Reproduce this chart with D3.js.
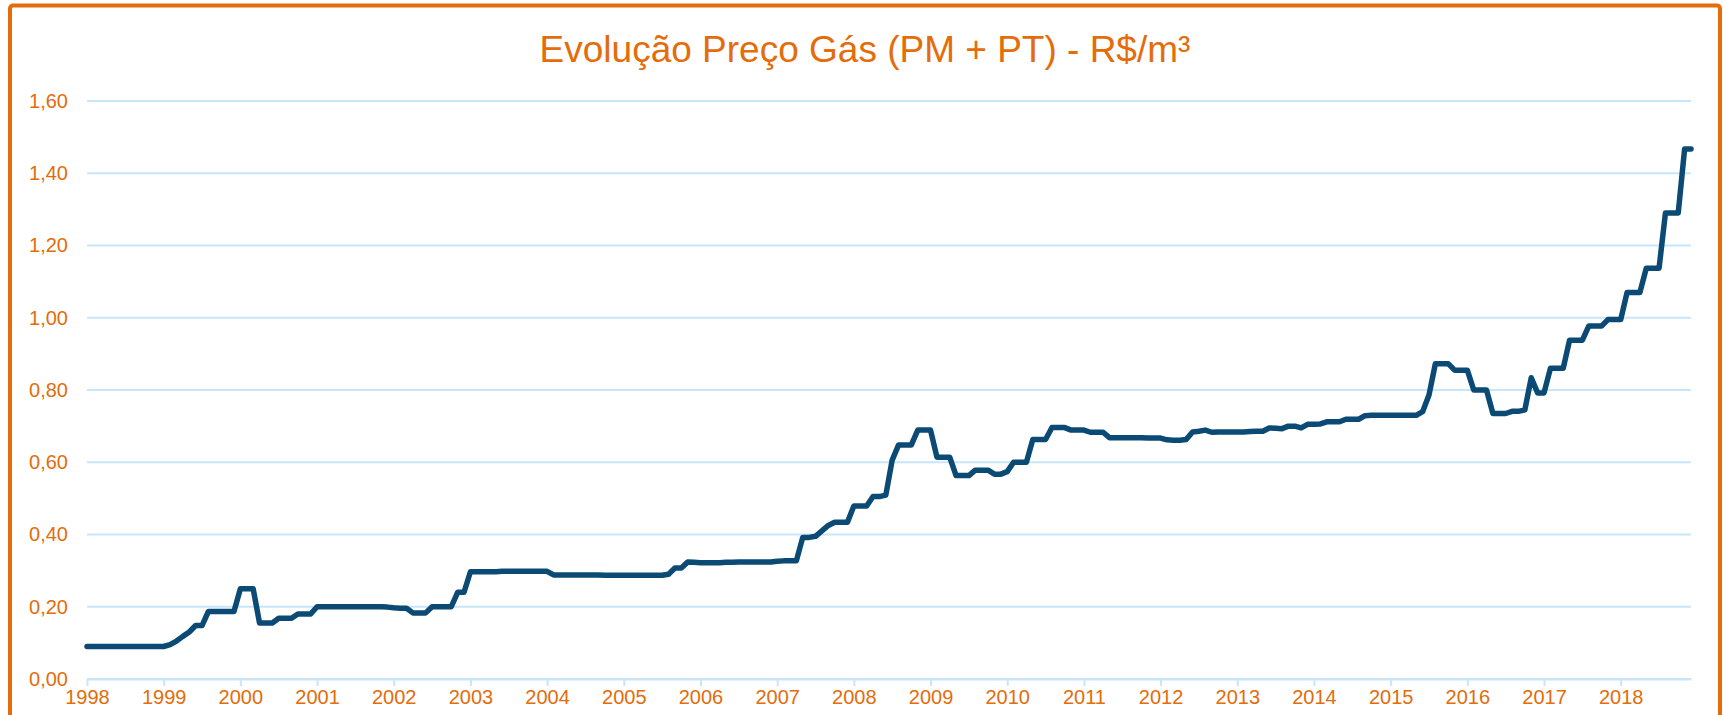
<!DOCTYPE html>
<html>
<head>
<meta charset="utf-8">
<script src="https://cdn.jsdelivr.net/npm/d3@7/dist/d3.min.js"></script>
<style>
  html, body { margin: 0; padding: 0; background: #ffffff; }
  svg { display: block; }
  text { font-family: "Liberation Sans", Arial, sans-serif; }
</style>
</head>
<body>
<svg id="chart" width="1723" height="715"></svg>
<script>
// ---- data ----
const title = "Evolução Preço Gás (PM + PT) - R$/m³";
const yearLabels = ["1998","1999","2000","2001","2002","2003","2004","2005","2006","2007",
  "2008","2009","2010","2011","2012","2013","2014","2015","2016","2017","2018"];
const yTicks = [0, 0.2, 0.4, 0.6, 0.8, 1.0, 1.2, 1.4, 1.6];
// monthly price, Jan 1998 .. Dec 2018 (one row per year)
const prices = [
  0.09, 0.09, 0.09, 0.09, 0.09, 0.09, 0.09, 0.09, 0.09, 0.09, 0.09, 0.09,             // 1998
  0.09, 0.095, 0.105, 0.118, 0.13, 0.148, 0.148, 0.187, 0.187, 0.187, 0.187, 0.187,    // 1999
  0.25, 0.25, 0.25, 0.155, 0.155, 0.155, 0.168, 0.168, 0.168, 0.18, 0.18, 0.18,        // 2000
  0.20, 0.20, 0.20, 0.20, 0.20, 0.20, 0.20, 0.20, 0.20, 0.20, 0.20, 0.199,             // 2001
  0.197, 0.196, 0.196, 0.183, 0.183, 0.183, 0.20, 0.20, 0.20, 0.20, 0.24, 0.24,        // 2002
  0.297, 0.297, 0.297, 0.297, 0.297, 0.298, 0.298, 0.298, 0.298, 0.298, 0.298, 0.298, // 2003
  0.298, 0.288, 0.288, 0.288, 0.288, 0.288, 0.288, 0.288, 0.288, 0.287, 0.287, 0.287, // 2004
  0.287, 0.287, 0.287, 0.287, 0.287, 0.287, 0.287, 0.29, 0.307, 0.307, 0.324, 0.323,  // 2005
  0.322, 0.322, 0.322, 0.322, 0.323, 0.323, 0.324, 0.324, 0.324, 0.324, 0.324, 0.324, // 2006
  0.326, 0.327, 0.327, 0.327, 0.392, 0.392, 0.395, 0.41, 0.425, 0.434, 0.434, 0.434,  // 2007
  0.479, 0.479, 0.479, 0.505, 0.505, 0.509, 0.606, 0.648, 0.648, 0.648, 0.689, 0.689, // 2008
  0.689, 0.614, 0.614, 0.614, 0.563, 0.563, 0.563, 0.578, 0.578, 0.578, 0.567, 0.567, // 2009
  0.574, 0.60, 0.60, 0.60, 0.663, 0.663, 0.663, 0.696, 0.696, 0.696, 0.689, 0.689,    // 2010
  0.689, 0.683, 0.683, 0.683, 0.668, 0.668, 0.668, 0.668, 0.668, 0.668, 0.667, 0.667, // 2011
  0.667, 0.662, 0.661, 0.661, 0.663, 0.684, 0.686, 0.689, 0.683, 0.684, 0.684, 0.684, // 2012
  0.684, 0.684, 0.685, 0.686, 0.686, 0.695, 0.694, 0.693, 0.70, 0.70, 0.695, 0.705,   // 2013
  0.705, 0.706, 0.712, 0.712, 0.712, 0.719, 0.719, 0.719, 0.729, 0.73, 0.73, 0.73,    // 2014
  0.73, 0.73, 0.73, 0.73, 0.73, 0.74, 0.786, 0.873, 0.873, 0.873, 0.855, 0.855,       // 2015
  0.855, 0.80, 0.80, 0.80, 0.735, 0.735, 0.735, 0.741, 0.741, 0.745, 0.834, 0.792,    // 2016
  0.792, 0.86, 0.86, 0.86, 0.938, 0.938, 0.938, 0.977, 0.977, 0.977, 0.995, 0.995,    // 2017
  0.995, 1.07, 1.07, 1.07, 1.137, 1.137, 1.137, 1.29, 1.29, 1.29, 1.467, 1.467        // 2018
];

// ---- drawing ----
const orange = "#E46C0A";
const gridColor = "#C8E6F9";
const lineColor = "#0B4A75";

const svg = d3.select("#chart");

const x = d3.scaleLinear().domain([0, prices.length - 1]).range([87, 1691]);
const y = d3.scaleLinear().domain([0, 1.6]).range([679, 101]);

// frame
svg.append("rect")
  .attr("x", 10).attr("y", 5.5)
  .attr("width", 1710).attr("height", 740)
  .attr("rx", 3)
  .attr("fill", "none")
  .attr("stroke", orange)
  .attr("stroke-width", 4);

// title
svg.append("text")
  .attr("x", 865).attr("y", 62)
  .attr("text-anchor", "middle")
  .attr("fill", orange)
  .style("font-size", "37px")
  .text(title);

// gridlines
svg.append("g").selectAll("line")
  .data(yTicks)
  .join("line")
  .attr("x1", x(0)).attr("x2", x(prices.length - 1))
  .attr("y1", d => y(d)).attr("y2", d => y(d))
  .attr("stroke", gridColor)
  .attr("stroke-width", 2);

// y axis labels
const fmt = d => d3.format(".2f")(d).replace(".", ",");
const yAxis = d3.axisLeft(y).tickValues(yTicks).tickFormat(fmt).tickSize(0).tickPadding(0);
const yg = svg.append("g").attr("transform", "translate(68,0)").call(yAxis);
yg.select(".domain").remove();
yg.selectAll("text")
  .attr("fill", orange)
  .style("font-size", "20px")
  .style("font-family", "'Liberation Sans', Arial, sans-serif");

// x axis
const xTickVals = yearLabels.map((d, i) => i * 12);
const xAxis = d3.axisBottom(x)
  .tickValues(xTickVals)
  .tickFormat((d, i) => yearLabels[i])
  .tickSizeInner(7).tickSizeOuter(0).tickPadding(4);
const xg = svg.append("g").attr("transform", `translate(0,${y(0)})`).call(xAxis);
xg.select(".domain").attr("stroke", gridColor).attr("stroke-width", 2);
xg.selectAll(".tick line").attr("stroke", gridColor).attr("stroke-width", 2);
xg.selectAll("text")
  .attr("fill", orange)
  .style("font-size", "20px")
  .style("font-family", "'Liberation Sans', Arial, sans-serif");

// line
const line = d3.line()
  .x((d, i) => x(i))
  .y(d => y(d));

svg.append("path")
  .datum(prices)
  .attr("d", line)
  .attr("fill", "none")
  .attr("stroke", lineColor)
  .attr("stroke-width", 5.5)
  .attr("stroke-linejoin", "round")
  .attr("stroke-linecap", "round");
</script>
</body>
</html>
